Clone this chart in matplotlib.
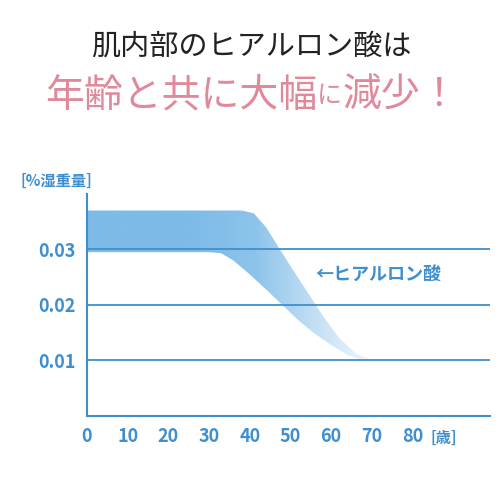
import matplotlib
matplotlib.use("Agg")
import matplotlib.pyplot as plt
import numpy as np
from matplotlib.path import Path
from matplotlib.patches import PathPatch
from matplotlib.colors import LinearSegmentedColormap

plt.rcParams['font.family'] = ['Noto Sans CJK JP', 'DejaVu Sans']

ages_upper = [0, 10, 20, 30, 38, 41, 44, 47, 50, 54, 58, 62, 66, 70]
upper = [0.037, 0.037, 0.037, 0.037, 0.037, 0.0365, 0.034, 0.0305, 0.027, 0.0225, 0.018, 0.014, 0.0113, 0.010]
ages_lower = [0, 10, 20, 30, 33, 36, 40, 44, 48, 52, 56, 60, 64, 68]
lower = [0.0295, 0.0295, 0.0295, 0.0295, 0.0293, 0.028, 0.0255, 0.0228, 0.020, 0.0172, 0.0148, 0.0128, 0.011, 0.010]
xticks = [0, 10, 20, 30, 40, 50, 60, 70, 80]
yticks = [0.01, 0.02, 0.03]
ytick_labels = ['0.01', '0.02', '0.03']

blue = '#3f8fcf'
fig = plt.figure(figsize=(5.02, 4.92), dpi=100)
ax = fig.add_axes([0.173, 0.1545, 0.803, 0.4515])
ax.set_xlim(0, 99)
ax.set_ylim(0, 0.04)

verts = list(zip(ages_upper, upper)) + list(zip(ages_lower[::-1], lower[::-1]))
path = Path(verts + [verts[0]], [Path.MOVETO] + [Path.LINETO]*(len(verts)-1) + [Path.CLOSEPOLY])
patch = PathPatch(path, facecolor='none', edgecolor='none')
ax.add_patch(patch)
cmap = LinearSegmentedColormap.from_list('g', ['#7dbbe8', '#8cc3ea', '#c4e0f5', '#f7fbfe'])
grad = np.linspace(0, 1, 256).reshape(1, -1)
grad = np.clip((grad - 0.35) / 0.65, 0, 1)
im = ax.imshow(grad, extent=[0, 72, 0.009, 0.038], aspect='auto', cmap=cmap, origin='lower', zorder=1)
im.set_clip_path(patch)

for y in yticks:
    ax.axhline(y, color=blue, lw=1.3, zorder=2)
for s in ['top', 'right']:
    ax.spines[s].set_visible(False)
for s in ['left', 'bottom']:
    ax.spines[s].set_color(blue)
    ax.spines[s].set_linewidth(1.5)
ax.set_xticks(xticks)
ax.set_xticklabels([str(x) for x in xticks])
ax.set_yticks(yticks)
ax.set_yticklabels(ytick_labels)
ax.tick_params(length=0, colors=blue, labelsize=13, pad=8)
for t in ax.get_xticklabels() + ax.get_yticklabels():
    t.set_fontweight('bold')

fig.text(0.04, 0.633, '[%湿重量]', color=blue, fontsize=11, fontweight='bold', va='center')
fig.text(0.858, 0.11, '[歳]', color=blue, fontsize=11, fontweight='bold', va='center')
ax.text(56, 0.0253, '←ヒアルロン酸', color=blue, fontsize=13, fontweight='bold', va='center')

fig.text(0.5, 0.905, '肌内部のヒアルロン酸は', ha='center', va='center', fontsize=21, color='#222222')
pink = '#e0899a'
parts = [('年齢と共に大幅', 28), ('に', 18), ('減少！', 28)]
x = 0.09
for s, fs in parts:
    t = fig.text(x, 0.805, s, fontsize=fs, color=pink, va='center')
    fig.canvas.draw()
    bb = t.get_window_extent()
    x += bb.width / fig.bbox.width
fig.savefig('out.png', dpi=100)
